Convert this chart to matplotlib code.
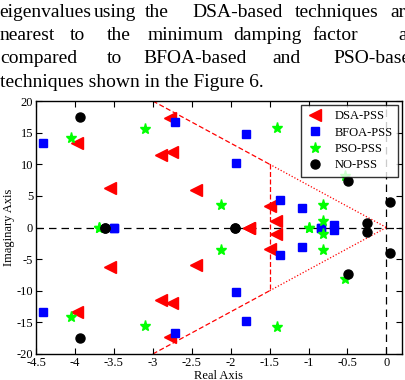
import matplotlib
matplotlib.use("Agg")
import matplotlib.pyplot as plt
import numpy as np

plt.rcParams["font.family"] = ["Liberation Serif", "DejaVu Serif"]

# ── Eigenvalue data (upper half-plane; conjugates mirrored) ───────────────────
dsa_re = [-2.78, -3.97, -2.90, -2.75, -3.55, -2.45, -1.49, -1.42, -1.77]
dsa_im = [17.3, 13.4, 11.5, 12.0, 6.3, 6.0, 3.4, 1.0, 0.0]

bfoa_re = [-4.41, -2.72, -3.50, -1.80, -1.93, -1.37, -1.09, -0.84, -0.67]
bfoa_im = [13.4, 16.75, 0.0, 14.8, 10.2, 4.3, 3.1, 0.0, 0.4]

pso_re = [-4.05, -3.10, -3.69, -1.40, -0.53, -2.12, -0.81, -0.81, -0.99]
pso_im = [14.2, 15.5, 0.0, 15.7, 8.2, 3.5, 3.6, 1.05, 0.0]

nopss_re = [-3.93, -3.61, -0.49, -1.95, -0.25, 0.047]
nopss_im = [17.4, 0.0, 7.3, 0.0, 0.7, 4.0]

# damping boundary: zeta line through origin, sigma limit at -1.5
zeta_x = [-3.0, -1.5, 0.0]
zeta_y = [20.0, 10.0, 0.0]
sigma_x = -1.5

paragraph = [
    ["eigenvalues", "using", "the", "DSA-based", "techniques", "ar"],
    ["nearest", "to", "the", "minimum", "damping", "factor", "a"],
    ["compared", "to", "BFOA-based", "and", "PSO-base"],
]
paragraph_x = [
    [-1, 94, 145, 192, 295, 390],
    [0, 70, 107, 148, 233, 312, 398],
    [0, 107, 143, 272, 333],
]
last_line = "techniques shown in the Figure 6."


def both(re, im):
    re = np.asarray(re)
    im = np.asarray(im)
    return np.concatenate([re, re]), np.concatenate([im, -im])


W, H = 406, 380
fig = plt.figure(figsize=(W / 100, H / 100), dpi=100)

# ── Paragraph text above the figure ───────────────────────────────────────────
baselines = [17, 40, 63, 87]
for words, xs, yb in zip(paragraph, paragraph_x, baselines):
    for w, x in zip(words, xs):
        fig.text(x / W, 1 - yb / H, w, fontsize=14, va="baseline", ha="left")
fig.text(0 / W, 1 - baselines[3] / H, last_line, fontsize=14,
         va="baseline", ha="left")

# ── Pole map ──────────────────────────────────────────────────────────────────
ax = fig.add_axes([36 / W, 1 - 354 / H, (402 - 36) / W, (354 - 101) / H])

ax.axhline(0, color="k", ls=(0, (6, 4)), lw=0.9, zorder=1)
ax.axvline(0, color="k", ls=(0, (6, 4)), lw=0.9, zorder=1)

# zeta boundary: dashed outside sigma limit, dotted inside
for s in (1, -1):
    ax.plot(zeta_x[:2], [s * v for v in zeta_y[:2]], color="r",
            ls=(0, (4, 2)), lw=0.9, zorder=1)
    ax.plot(zeta_x[1:], [s * v for v in zeta_y[1:]], color="r",
            ls=(0, (1, 1.5)), lw=0.9, zorder=1)
ax.plot([sigma_x, sigma_x], [zeta_y[1], -zeta_y[1]], color="r",
        ls=(0, (4, 2)), lw=0.9, zorder=1)

x, y = both(dsa_re, dsa_im)
ax.plot(x, y, "<", color="r", ms=8, ls="none", label="DSA-PSS", zorder=3)
x, y = both(bfoa_re, bfoa_im)
ax.plot(x, y, "s", color="b", ms=6, ls="none", label="BFOA-PSS", zorder=3)
x, y = both(pso_re, pso_im)
ax.plot(x, y, "*", color=(0, 1, 0), ms=8, ls="none", label="PSO-PSS", zorder=3)
x, y = both(nopss_re, nopss_im)
ax.plot(x, y, "o", color="k", ms=6.5, ls="none", label="NO-PSS", zorder=4)

ax.set_xlim(-4.5, 0.2)
ax.set_ylim(-20, 20)
ax.set_xticks(np.arange(-4.5, 0.01, 0.5))
ax.set_xticklabels(["-4.5", "-4", "-3.5", "-3", "-2.5", "-2", "-1.5",
                    "-1", "-0.5", "0"])
ax.set_yticks(np.arange(-20, 21, 5))
ax.set_yticklabels([str(v) for v in range(-20, 21, 5)])
ax.tick_params(direction="in", top=True, right=True, labelsize=9,
               length=4, width=0.8, pad=2)
for sp in ax.spines.values():
    sp.set_linewidth(1.0)

ax.set_xlabel("Real Axis", fontsize=9, labelpad=1)
ax.set_ylabel("Imaginary Axis", fontsize=9, labelpad=1)

leg = ax.legend(loc="upper right", fontsize=9, frameon=True, fancybox=False,
                borderaxespad=0.35, handlelength=1.5, handletextpad=0.8,
                borderpad=0.4, labelspacing=0.35, numpoints=1)
leg.get_frame().set_edgecolor("k")
leg.get_frame().set_linewidth(1.0)

fig.savefig("out.png", dpi=100)
